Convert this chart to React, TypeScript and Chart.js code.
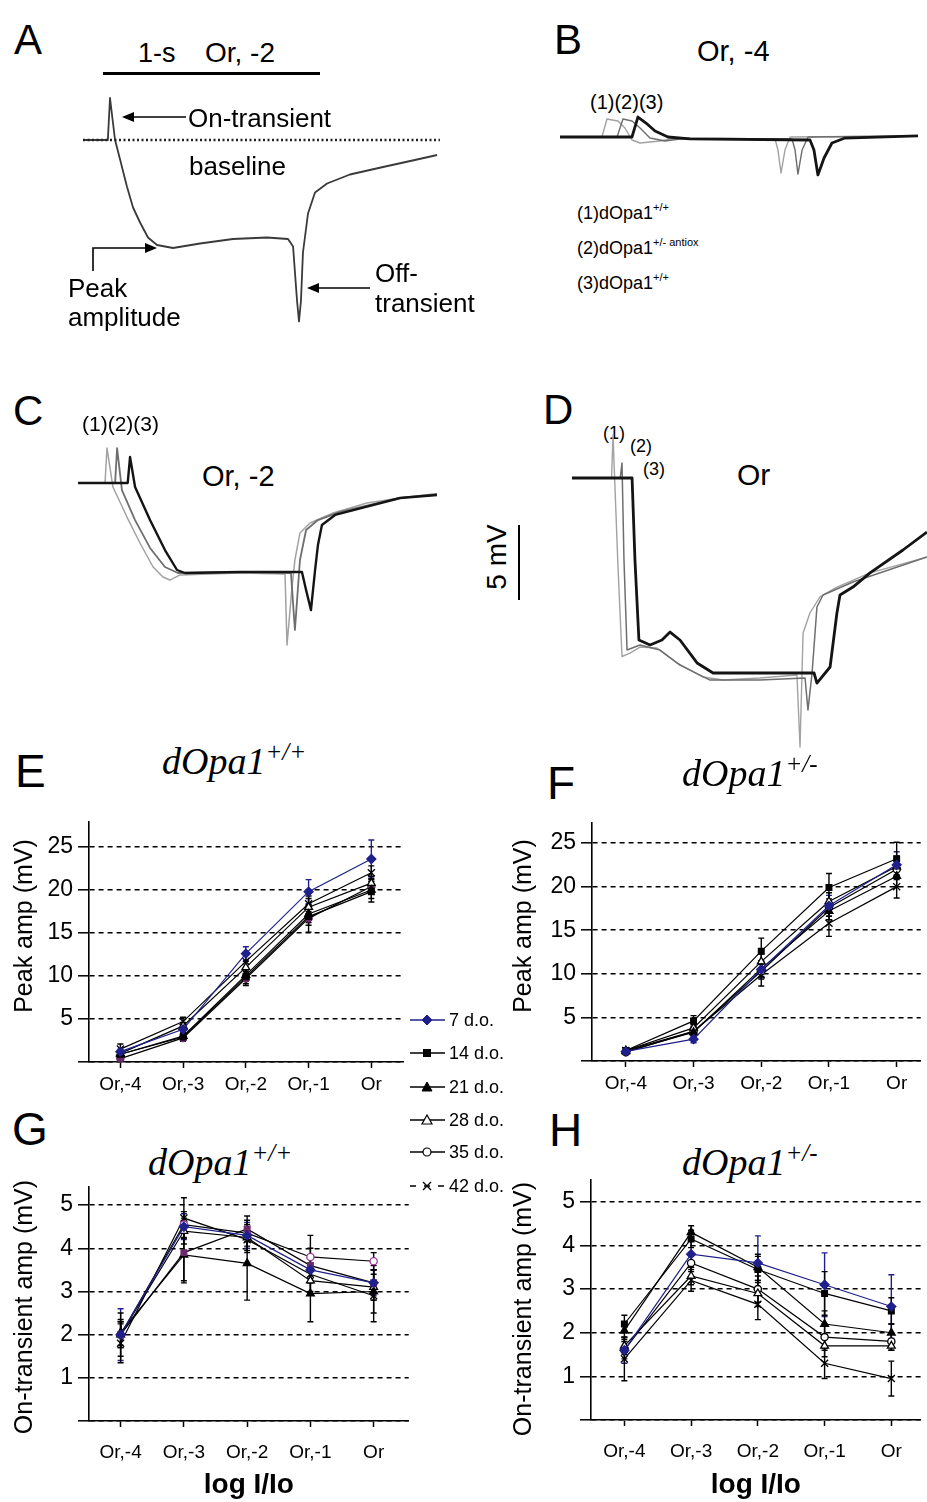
import React, { useEffect, useRef } from 'react';
import { Chart, registerables } from 'chart.js';

Chart.register(...registerables);

const SANS = '"Liberation Sans", Arial, sans-serif';
const SERIF = '"Liberation Serif", "Times New Roman", serif';
Chart.defaults.font.family = SANS;
Chart.defaults.color = '#000';

// ---------------- DATA ----------------
const CATEGORIES = ['Or,-4', 'Or,-3', 'Or,-2', 'Or,-1', 'Or'];
const AGES = ['7 d.o.', '14 d.o.', '21 d.o.', '28 d.o.', '35 d.o.', '42 d.o.'];

// E: peak amplitude, dOpa1 +/+ (mV)
const E_7 = [1.2, 3.8, 12.6, 19.8, 23.6];
const E_14 = [0.9, 2.9, 9.9, 16.9, 19.8];
const E_21 = [0.9, 3.0, 10.1, 17.2, 20.0];
const E_28 = [1.0, 4.2, 11.0, 18.0, 20.8];
const E_35 = [0.4, 2.8, 9.7, 16.7, 20.4];
const E_42 = [1.5, 4.7, 11.7, 18.4, 22.0];
const E_7_ERR = [0.3, 0.5, 0.8, 1.4, 2.2];
const E_14_ERR = [0.3, 0.4, 0.8, 1.0, 1.2];
const E_21_ERR = [0.3, 0.4, 0.7, 1.0, 1.0];
const E_28_ERR = [0.3, 0.4, 0.7, 1.0, 0.8];
const E_35_ERR = [0.2, 0.4, 0.8, 1.6, 0.9];
const E_42_ERR = [0.6, 0.5, 0.8, 0.9, 0.8];

// F: peak amplitude, dOpa1 +/- (mV)
const F_7 = [1.1, 2.5, 10.5, 17.8, 22.5];
const F_14 = [1.2, 4.6, 12.6, 19.9, 23.2];
const F_21 = [1.1, 3.3, 10.6, 17.2, 21.2];
const F_28 = [1.2, 3.8, 11.4, 18.3, 22.3];
const F_35 = [1.0, 3.4, 10.3, 17.6, 22.0];
const F_42 = [1.2, 3.4, 9.9, 15.8, 20.0];
const F_7_ERR = [0.2, 0.4, 0.9, 1.2, 1.5];
const F_14_ERR = [0.2, 0.6, 1.5, 1.6, 1.9];
const F_21_ERR = [0.2, 0.4, 0.9, 1.0, 1.2];
const F_28_ERR = [0.2, 0.4, 0.9, 1.0, 1.2];
const F_35_ERR = [0.2, 0.4, 0.9, 1.0, 1.2];
const F_42_ERR = [0.3, 0.5, 1.3, 1.5, 1.3];

// G: on-transient amplitude, dOpa1 +/+ (mV)
const G_7 = [2.0, 4.5, 4.3, 3.5, 3.2];
const G_14 = [2.0, 3.9, 4.45, 3.6, 3.2];
const G_21 = [2.05, 3.85, 3.65, 2.95, 3.0];
const G_28 = [2.0, 4.4, 4.25, 3.25, 3.1];
const G_35 = [2.0, 4.55, 4.35, 3.8, 3.7];
const G_42 = [1.8, 4.7, 4.2, 3.4, 2.9];
const G_7_ERR = [0.6, 0.3, 0.3, 0.3, 0.3];
const G_14_ERR = [0.5, 0.7, 0.3, 0.4, 0.4];
const G_21_ERR = [0.3, 0.6, 0.85, 0.65, 0.5];
const G_28_ERR = [0.3, 0.3, 0.3, 0.3, 0.3];
const G_35_ERR = [0.3, 0.3, 0.3, 0.5, 0.2];
const G_42_ERR = [0.45, 0.47, 0.3, 0.4, 0.6];

// H: on-transient amplitude, dOpa1 +/- (mV)
const H_7 = [1.6, 3.8, 3.6, 3.1, 2.6];
const H_14 = [2.2, 4.15, 3.45, 2.9, 2.5];
const H_21 = [2.05, 4.3, 3.5, 2.2, 2.0];
const H_28 = [1.7, 3.3, 2.9, 1.7, 1.7];
const H_35 = [1.6, 3.6, 3.0, 1.9, 1.8];
const H_42 = [1.4, 3.2, 2.65, 1.3, 0.95];
const H_7_ERR = [0.3, 0.3, 0.62, 0.73, 0.73];
const H_14_ERR = [0.2, 0.2, 0.3, 0.5, 0.3];
const H_21_ERR = [0.2, 0.15, 0.3, 0.3, 0.2];
const H_28_ERR = [0.2, 0.2, 0.3, 0.25, 0.1];
const H_35_ERR = [0.2, 0.2, 0.3, 0.3, 0.2];
const H_42_ERR = [0.5, 0.25, 0.35, 0.35, 0.4];

const PEAK_TICKS = [0, 5, 10, 15, 20, 25];
const ONT_TICKS = [0, 1, 2, 3, 4, 5];

// ERG traces: [time (ms from first onset), voltage (mV)]
const TRACE_A = [[-150, 0], [-12, 0], [0, 2.8], [28, 0], [56, -1.3], [94, -3.1], [128, -4.5], [167, -5.5], [211, -6.5], [261, -7.0], [350, -7.2], [500, -6.9], [683, -6.6], [872, -6.5], [989, -6.6], [1017, -7.1], [1039, -10.7], [1050, -12.1], [1061, -10.7], [1072, -7.5], [1100, -4.9], [1139, -3.5], [1206, -2.9], [1333, -2.3], [1517, -1.8], [1706, -1.3], [1817, -1.0]];
const BASELINE_A = [[-150, 0], [1833, 0]];

const TRACE_B1 = [[-239, 0], [-6, 0], [22, 1.2], [83, 1.07], [122, 0.6], [161, -0.2], [206, -0.4], [317, -0.27], [400, -0.07], [956, -0.13], [972, -0.87], [989, -2.4], [1011, -0.87], [1039, 0], [1750, 0.07]];
const TRACE_B2 = [[-239, 0], [78, 0], [111, 1.2], [161, 1.07], [206, 0.6], [261, -0.07], [344, -0.27], [428, -0.13], [1050, -0.13], [1067, -0.87], [1083, -2.47], [1106, -0.87], [1139, 0], [1750, 0.07]];
const TRACE_B3 = [[-239, 0], [161, 0], [194, 1.33], [239, 0.93], [289, 0.4], [361, 0], [483, -0.13], [1150, -0.2], [1172, -0.87], [1194, -2.53], [1228, -1.4], [1272, -0.4], [1344, -0.07], [1750, 0.07]];

const TRACE_C1 = [[-161, 0], [-11, 0], [0, 2.33], [33, -0.27], [111, -2.27], [183, -4.0], [256, -5.6], [311, -6.27], [350, -6.47], [406, -6.13], [739, -6.0], [989, -6.07], [1000, -10.8], [1028, -6.93], [1044, -5.13], [1072, -3.33], [1128, -2.67], [1256, -2.0], [1444, -1.33], [1628, -1.0], [1833, -0.8]];
const TRACE_C2 = [[-161, 0], [45, 0], [56, 2.33], [83, -0.47], [156, -2.47], [239, -4.33], [322, -5.6], [394, -6.0], [739, -5.93], [1022, -6.0], [1044, -9.8], [1072, -5.13], [1106, -3.13], [1172, -2.47], [1294, -1.93], [1628, -1.0], [1833, -0.73]];
const TRACE_C3 = [[-161, 0], [115, 0], [128, 1.73], [156, -0.27], [239, -2.47], [322, -4.47], [389, -5.8], [433, -6.0], [739, -5.93], [1083, -5.93], [1106, -7.13], [1133, -8.47], [1156, -5.8], [1172, -4.13], [1194, -2.8], [1267, -2.13], [1628, -1.0], [1833, -0.8]];

const TRACE_D1 = [[-228, 0], [-8, 0], [0, 2.87], [28, -6.0], [50, -11.9], [94, -11.67], [150, -11.27], [244, -11.33], [356, -12.33], [500, -13.27], [611, -13.47], [817, -13.33], [1022, -13.13], [1039, -17.93], [1056, -10.33], [1094, -9.0], [1150, -7.93], [1244, -7.27], [1428, -6.33], [1744, -5.27]];
const TRACE_D2 = [[-228, 0], [40, 0], [50, 1.0], [61, -5.47], [78, -11.47], [150, -11.13], [261, -11.47], [372, -12.47], [539, -13.47], [817, -13.47], [1067, -13.33], [1083, -15.47], [1106, -13.0], [1133, -8.6], [1167, -7.8], [1333, -6.93], [1744, -5.27]];
const TRACE_D3 = [[-228, 0], [106, 0], [122, -5.47], [144, -10.8], [206, -11.13], [272, -10.8], [317, -10.27], [372, -10.8], [467, -12.33], [556, -13.0], [817, -13.0], [1117, -13.0], [1133, -13.67], [1206, -12.6], [1244, -9.0], [1261, -7.8], [1333, -7.27], [1428, -6.33], [1611, -4.8], [1744, -3.6]];

// ---------------- STYLES / LAYOUT ----------------
const KX = 0.18; // px per ms
const KY = 15; // px per mV

const NAVY = '#20208c';
const PURPLE = '#6a2a6a';
const LIGHT = '#a2a2a2';
const MID = '#6e6e6e';
const DARK = '#141414';

const SERIES_STYLES = [
  { color: NAVY, pointStyle: 'rectRot', fill: NAVY, radius: 4.5 },
  { color: '#000', pointStyle: 'rect', fill: '#000', radius: 4 },
  { color: '#000', pointStyle: 'triangle', fill: '#000', radius: 4.5 },
  { color: '#000', pointStyle: 'triangle', fill: '#fff', radius: 4.5 },
  { color: '#000', pointStyle: 'circle', fill: '#fff', radius: 3.6 },
  { color: '#000', pointStyle: 'crossRot', fill: '#000', radius: 5 },
];

const errorBarPlugin = {
  id: 'errorBars',
  beforeDatasetsDraw(chart: any) {
    const { ctx } = chart;
    const yScale = chart.scales.y;
    chart.data.datasets.forEach((ds: any, i: number) => {
      const errs = ds.errors as number[] | undefined;
      if (!errs) return;
      const meta = chart.getDatasetMeta(i);
      ctx.save();
      ctx.strokeStyle = ds.borderColor;
      ctx.lineWidth = 1.4;
      meta.data.forEach((pt: any, j: number) => {
        const e = errs[j];
        if (!e) return;
        const v = ds.data[j].y;
        const yTop = yScale.getPixelForValue(v + e);
        const yBot = yScale.getPixelForValue(v - e);
        ctx.beginPath();
        ctx.moveTo(pt.x, yTop);
        ctx.lineTo(pt.x, yBot);
        ctx.moveTo(pt.x - 3, yTop);
        ctx.lineTo(pt.x + 3, yTop);
        ctx.moveTo(pt.x - 3, yBot);
        ctx.lineTo(pt.x + 3, yBot);
        ctx.stroke();
      });
      ctx.restore();
    });
  },
};

type DoseOpts = {
  values: number[][];
  errors: number[][];
  xMax: number;
  yMax: number;
  yTicks: number[];
  yWidth: number;
  xHeight: number;
  xTickPad: number;
  xTitle?: string;
  markerColors?: (string | null)[];
  markerFills?: (string | null)[];
};

function makeDoseConfig(o: DoseOpts) {
  return () => ({
    type: 'line',
    data: {
      datasets: o.values.map((vals, i) => {
        const st = SERIES_STYLES[i];
        const mc = (o.markerColors && o.markerColors[i]) || st.color;
        const mf = (o.markerFills && o.markerFills[i]) || st.fill;
        return {
          label: AGES[i],
          data: vals.map((v, j) => ({ x: j, y: v })),
          errors: o.errors[i],
          borderColor: st.color,
          borderWidth: 1.2,
          pointStyle: st.pointStyle,
          pointRadius: st.radius,
          pointBackgroundColor: mf,
          pointBorderColor: mc,
          pointBorderWidth: 1.3,
          tension: 0,
          fill: false,
        };
      }),
    },
    options: {
      animation: false,
      responsive: false,
      maintainAspectRatio: false,
      events: [],
      layout: { padding: { top: 20, left: 0, right: 0, bottom: 0 } },
      plugins: { legend: { display: false }, tooltip: { enabled: false } },
      scales: {
        x: {
          type: 'linear',
          bounds: 'data',
          min: -0.5,
          max: o.xMax,
          afterBuildTicks: (s: any) => {
            s.ticks = CATEGORIES.map((_, i) => ({ value: i }));
          },
          afterFit: (s: any) => {
            s.height = o.xHeight;
          },
          grid: { drawOnChartArea: false, drawTicks: true, tickLength: 6, tickColor: '#000', tickWidth: 1.5 },
          border: { display: true, color: '#000', width: 1.6 },
          ticks: {
            color: '#000',
            font: { size: 19, family: SANS },
            padding: o.xTickPad,
            maxRotation: 0,
            autoSkip: false,
            callback: (v: any) => CATEGORIES[Math.round(v)] ?? '',
          },
          title: o.xTitle
            ? { display: true, text: o.xTitle, color: '#000', font: { size: 28, weight: 'bold', family: SANS }, padding: { top: 0, bottom: 0 } }
            : { display: false },
        },
        y: {
          type: 'linear',
          bounds: 'data',
          min: 0,
          max: o.yMax,
          afterBuildTicks: (s: any) => {
            s.ticks = o.yTicks.map((v) => ({ value: v }));
          },
          afterFit: (s: any) => {
            s.width = o.yWidth;
          },
          grid: { color: '#000', lineWidth: 1.6, tickLength: 11, tickColor: '#000', tickWidth: 1.5, drawOnChartArea: true },
          border: { display: true, color: '#000', width: 1.6, dash: [5, 4] },
          ticks: {
            color: '#000',
            font: { size: 23, family: SANS },
            padding: 5,
            callback: (v: any) => (v === 0 ? '' : String(v)),
          },
          title: { display: false },
        },
      },
    },
    plugins: [errorBarPlugin],
  });
}

type Panel = { left: number; top: number; width: number; height: number; t0x: number; v0y: number };
type TraceDef = { pts: number[][]; color: string; width: number; dash?: number[] };

function makeTraceConfig(p: Panel, traces: TraceDef[]) {
  return () => ({
    type: 'line',
    data: {
      datasets: traces.map((tr) => ({
        data: tr.pts.map(([t, v]) => ({ x: t, y: v })),
        borderColor: tr.color,
        borderWidth: tr.width,
        borderDash: tr.dash || [],
        borderJoinStyle: 'round',
        pointRadius: 0,
        tension: 0,
        fill: false,
      })),
    },
    options: {
      animation: false,
      responsive: false,
      maintainAspectRatio: false,
      events: [],
      layout: { padding: 0 },
      plugins: { legend: { display: false }, tooltip: { enabled: false } },
      scales: {
        x: { type: 'linear', display: false, bounds: 'data', min: (p.left - p.t0x) / KX, max: (p.left + p.width - p.t0x) / KX },
        y: { type: 'linear', display: false, bounds: 'data', min: (p.v0y - p.top - p.height) / KY, max: (p.v0y - p.top) / KY },
      },
    },
  });
}

function ChartCanvas({ left, top, width, height, make }: any) {
  const ref = useRef<HTMLCanvasElement>(null);
  useEffect(() => {
    const chart = new Chart(ref.current as HTMLCanvasElement, make() as any);
    return () => chart.destroy();
  }, []);
  return <canvas ref={ref} width={width} height={height} style={{ position: 'absolute', left, top, width, height }} />;
}

function Txt({ x, y, size, serif, italic, bold, children }: any) {
  const asc = serif ? 0.8375 : 0.8465;
  return (
    <div
      style={{
        position: 'absolute',
        left: x,
        top: y - asc * size,
        fontSize: size,
        lineHeight: `${size}px`,
        fontFamily: serif ? SERIF : SANS,
        fontStyle: italic ? 'italic' : 'normal',
        fontWeight: bold ? 'bold' : 'normal',
        whiteSpace: 'nowrap',
        color: '#000',
      }}
    >
      {children}
    </div>
  );
}

function VTxt({ cx, cy, size, children }: any) {
  return (
    <div
      style={{
        position: 'absolute',
        left: cx,
        top: cy,
        transform: 'translate(-50%, -50%) rotate(-90deg)',
        fontSize: size,
        lineHeight: `${size}px`,
        fontFamily: SANS,
        whiteSpace: 'nowrap',
        color: '#000',
      }}
    >
      {children}
    </div>
  );
}

function Sup({ size, dy, children }: any) {
  return <span style={{ fontSize: size, position: 'relative', top: dy, lineHeight: 0 }}>{children}</span>;
}

function Title({ x, y, sup }: any) {
  return (
    <Txt x={x} y={y} size={38} serif italic>
      dOpa1<Sup size={25} dy={-14}>{sup}</Sup>
    </Txt>
  );
}

function LegendMarker({ i }: { i: number }) {
  const st = SERIES_STYLES[i];
  const c = st.color;
  let m: any = null;
  if (i === 0) m = <polygon points="19,2 24,7 19,12 14,7" fill={c} stroke={c} />;
  if (i === 1) m = <rect x={15} y={3} width={8} height={8} fill="#000" />;
  if (i === 2) m = <polygon points="19,2 24,11 14,11" fill="#000" stroke="#000" />;
  if (i === 3) m = <polygon points="19,2 24,11 14,11" fill="#fff" stroke="#000" strokeWidth={1.2} />;
  if (i === 4) m = <circle cx={19} cy={7} r={4} fill="#fff" stroke="#000" strokeWidth={1.2} />;
  if (i === 5)
    m = (
      <g stroke="#000" strokeWidth={1.3}>
        <line x1={15} y1={3} x2={23} y2={11} />
        <line x1={23} y1={3} x2={15} y2={11} />
      </g>
    );
  return (
    <svg width={40} height={14} style={{ display: 'block' }}>
      <line x1={2} y1={7} x2={37} y2={7} stroke={c} strokeWidth={1.5} strokeDasharray={i === 5 ? '6,8' : undefined} />
      {m}
    </svg>
  );
}

const LEGEND_ROWS_Y = [1020, 1053, 1087, 1120, 1152, 1186];

const PANEL_A: Panel = { left: 80, top: 88, width: 365, height: 245, t0x: 110, v0y: 140 };
const PANEL_B: Panel = { left: 555, top: 105, width: 372, height: 80, t0x: 603, v0y: 137 };
const PANEL_C: Panel = { left: 75, top: 440, width: 370, height: 215, t0x: 107, v0y: 483 };
const PANEL_D: Panel = { left: 568, top: 428, width: 359, height: 325, t0x: 613, v0y: 478 };

export default function App() {
  // first dataset is drawn on top by Chart.js
  const cfgA = makeTraceConfig(PANEL_A, [
    { pts: BASELINE_A, color: '#222', width: 2.6, dash: [2, 2.5] },
    { pts: TRACE_A, color: '#3a3a3a', width: 1.8 },
  ]);
  const cfgB = makeTraceConfig(PANEL_B, [
    { pts: TRACE_B3, color: DARK, width: 2.8 },
    { pts: TRACE_B2, color: MID, width: 1.4 },
    { pts: TRACE_B1, color: LIGHT, width: 1.4 },
  ]);
  const cfgC = makeTraceConfig(PANEL_C, [
    { pts: TRACE_C3, color: DARK, width: 2.4 },
    { pts: TRACE_C2, color: MID, width: 1.8 },
    { pts: TRACE_C1, color: LIGHT, width: 1.5 },
  ]);
  const cfgD = makeTraceConfig(PANEL_D, [
    { pts: TRACE_D3, color: DARK, width: 2.8 },
    { pts: TRACE_D2, color: MID, width: 1.5 },
    { pts: TRACE_D1, color: LIGHT, width: 1.4 },
  ]);

  const cfgE = makeDoseConfig({
    values: [E_7, E_14, E_21, E_28, E_35, E_42],
    errors: [E_7_ERR, E_14_ERR, E_21_ERR, E_28_ERR, E_35_ERR, E_42_ERR],
    xMax: 4.516,
    yMax: 27.9,
    yTicks: PEAK_TICKS,
    yWidth: 89,
    xHeight: 40,
    xTickPad: 5,
    markerColors: [null, null, null, null, PURPLE, null],
    markerFills: [null, null, null, null, PURPLE, null],
  });
  const cfgF = makeDoseConfig({
    values: [F_7, F_14, F_21, F_28, F_35, F_42],
    errors: [F_7_ERR, F_14_ERR, F_21_ERR, F_28_ERR, F_35_ERR, F_42_ERR],
    xMax: 4.355,
    yMax: 27.3,
    yTicks: PEAK_TICKS,
    yWidth: 92,
    xHeight: 40,
    xTickPad: 5,
  });
  const cfgG = makeDoseConfig({
    values: [G_7, G_14, G_21, G_28, G_35, G_42],
    errors: [G_7_ERR, G_14_ERR, G_21_ERR, G_28_ERR, G_35_ERR, G_42_ERR],
    xMax: 4.554,
    yMax: 5.42,
    yTicks: ONT_TICKS,
    yWidth: 89,
    xHeight: 81,
    xTickPad: 14,
    xTitle: 'log I/Io',
    markerColors: [null, PURPLE, null, null, '#9a3a9a', null],
    markerFills: [null, PURPLE, null, null, null, null],
  });
  const cfgH = makeDoseConfig({
    values: [H_7, H_14, H_21, H_28, H_35, H_42],
    errors: [H_7_ERR, H_14_ERR, H_21_ERR, H_28_ERR, H_35_ERR, H_42_ERR],
    xMax: 4.44,
    yMax: 5.5,
    yTicks: ONT_TICKS,
    yWidth: 91,
    xHeight: 82,
    xTickPad: 14,
    xTitle: 'log I/Io',
  });

  return (
    <div style={{ position: 'absolute', left: 0, top: 0, width: 927, height: 1502, overflow: 'hidden', background: '#fff', fontFamily: SANS }}>
      {/* Panel letters */}
      <Txt x={14} y={55} size={42}>A</Txt>
      <Txt x={554} y={55} size={42}>B</Txt>
      <Txt x={13} y={426} size={42}>C</Txt>
      <Txt x={543} y={425} size={42}>D</Txt>
      <Txt x={15} y={787} size={46}>E</Txt>
      <Txt x={547} y={799} size={46}>F</Txt>
      <Txt x={12} y={1145} size={46}>G</Txt>
      <Txt x={549} y={1146} size={46}>H</Txt>

      {/* Panel A */}
      <Txt x={138} y={63} size={27}>1-s</Txt>
      <Txt x={205} y={63} size={28}>Or, -2</Txt>
      <div style={{ position: 'absolute', left: 103, top: 72, width: 217, height: 3, background: '#000' }} />
      <ChartCanvas {...PANEL_A} make={cfgA} />
      <Txt x={188} y={127} size={26}>On-transient</Txt>
      <Txt x={189} y={175} size={26}>baseline</Txt>
      <Txt x={68} y={297} size={26}>Peak</Txt>
      <Txt x={68} y={326} size={26}>amplitude</Txt>
      <Txt x={375} y={282} size={26}>Off-</Txt>
      <Txt x={375} y={312} size={26}>transient</Txt>
      <svg width={480} height={340} style={{ position: 'absolute', left: 0, top: 0 }}>
        <g stroke="#000" strokeWidth={1.6} fill="none">
          <line x1={186} y1={117} x2={132} y2={117} />
          <polyline points="93,271 93,248 147,248" />
          <line x1={370} y1={288} x2={317} y2={288} />
        </g>
        <g fill="#000">
          <polygon points="122,117 134,112 134,122" />
          <polygon points="157,248 145,243 145,253" />
          <polygon points="307,288 319,283 319,293" />
        </g>
      </svg>

      {/* Panel B */}
      <Txt x={697} y={62} size={29}>Or, -4</Txt>
      <Txt x={590} y={109} size={20}>(1)(2)(3)</Txt>
      <ChartCanvas {...PANEL_B} make={cfgB} />
      <Txt x={577} y={219} size={18}>(1)dOpa1<Sup size={11} dy={-8}>+/+</Sup></Txt>
      <Txt x={577} y={254} size={18}>(2)dOpa1<Sup size={11} dy={-8}>+/- antiox</Sup></Txt>
      <Txt x={577} y={289} size={18}>(3)dOpa1<Sup size={11} dy={-8}>+/+</Sup></Txt>

      {/* Panel C */}
      <Txt x={82} y={431} size={21}>(1)(2)(3)</Txt>
      <Txt x={202} y={487} size={29}>Or, -2</Txt>
      <ChartCanvas {...PANEL_C} make={cfgC} />

      {/* Panel D */}
      <Txt x={603} y={439} size={18}>(1)</Txt>
      <Txt x={630} y={452} size={18}>(2)</Txt>
      <Txt x={643} y={475} size={18}>(3)</Txt>
      <Txt x={737} y={485} size={30}>Or</Txt>
      <ChartCanvas {...PANEL_D} make={cfgD} />
      <div style={{ position: 'absolute', left: 518, top: 525, width: 2, height: 75, background: '#000' }} />
      <VTxt cx={497} cy={557} size={28}>5 mV</VTxt>

      {/* Panels E-H */}
      <Title x={162} y={774} sup="+/+" />
      <Title x={682} y={786} sup="+/-" />
      <Title x={148} y={1175} sup="+/+" />
      <Title x={682} y={1175} sup="+/-" />
      <ChartCanvas left={0} top={802} width={410} height={300} make={cfgE} />
      <ChartCanvas left={500} top={803} width={427} height={298} make={cfgF} />
      <ChartCanvas left={0} top={1167} width={415} height={335} make={cfgG} />
      <ChartCanvas left={500} top={1160} width={427} height={342} make={cfgH} />
      <VTxt cx={23} cy={926} size={25}>Peak amp (mV)</VTxt>
      <VTxt cx={522} cy={926} size={25}>Peak amp (mV)</VTxt>
      <VTxt cx={23} cy={1307} size={25}>On-transient amp (mV)</VTxt>
      <VTxt cx={522} cy={1309} size={25}>On-transient amp (mV)</VTxt>

      {/* Shared legend */}
      {AGES.map((a, i) => (
        <React.Fragment key={a}>
          <div style={{ position: 'absolute', left: 408, top: LEGEND_ROWS_Y[i] - 7 }}>
            <LegendMarker i={i} />
          </div>
          <Txt x={449} y={LEGEND_ROWS_Y[i] + 6.5} size={18}>{a}</Txt>
        </React.Fragment>
      ))}
    </div>
  );
}
